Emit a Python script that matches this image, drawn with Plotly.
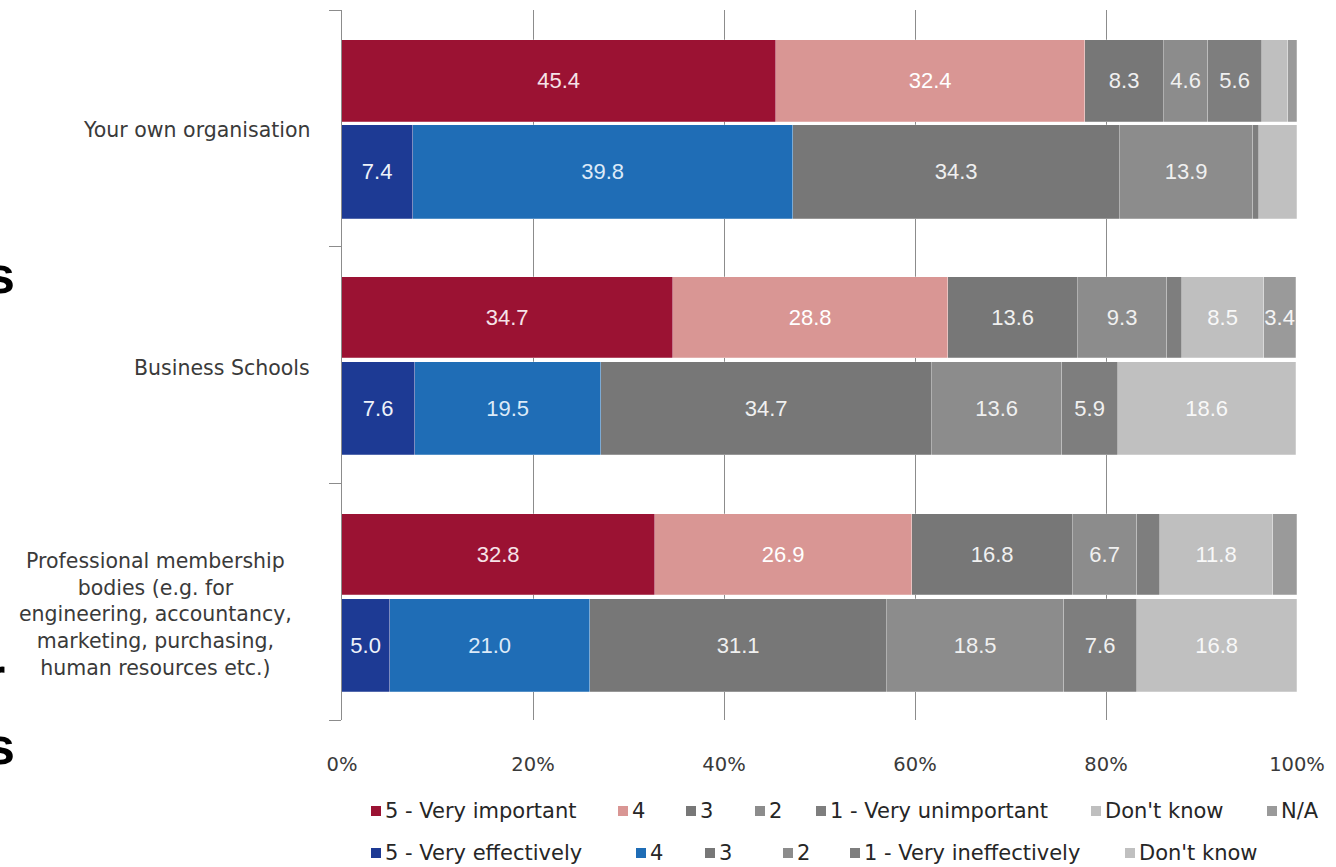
import plotly.graph_objects as go

# ---- data -------------------------------------------------------------
categories = [
    "Your own organisation",
    "Business Schools",
    "Professional membership<br>bodies (e.g. for<br>engineering, accountancy,<br>marketing, purchasing,<br>human resources etc.)",
]

# importance ratings (% of respondents)
importance_names = ["5 - Very important", "4", "3", "2", "1 - Very unimportant", "Don't know", "N/A"]
imp_5 = [45.4, 34.7, 32.8]
imp_4 = [32.4, 28.8, 26.9]
imp_3 = [8.3, 13.6, 16.8]
imp_2 = [4.6, 9.3, 6.7]
imp_1 = [5.6, 1.6, 2.5]
imp_dk = [2.8, 8.5, 11.8]
imp_na = [0.9, 3.4, 2.5]

# effectiveness ratings (% of respondents)
effectiveness_names = ["5 - Very effectively", "4", "3", "2", "1 - Very ineffectively", "Don't know"]
eff_5 = [7.4, 7.6, 5.0]
eff_4 = [39.8, 19.5, 21.0]
eff_3 = [34.3, 34.7, 31.1]
eff_2 = [13.9, 13.6, 18.5]
eff_1 = [0.6, 5.9, 7.6]
eff_dk = [4.0, 18.6, 16.8]

# which segments carry a value label
imp_label_on = [
    [True, True, True], [True, True, True], [True, True, True], [True, True, True],
    [True, False, False], [False, True, True], [False, True, False],
]
eff_label_on = [
    [True, True, True], [True, True, True], [True, True, True], [True, True, True],
    [False, True, True], [False, True, True],
]

# ---- styling ----------------------------------------------------------
imp_colors = ["#9B1233", "#D99694", "#777777", "#8C8C8C", "#7E7E7E", "#BFBFBF", "#9A9A9A"]
imp_text_colors = ["#F6E3E8", "#FFFFFF", "#F0F0F0", "#F0F0F0", "#F0F0F0", "#F8F8F8", "#F4F4F4"]
eff_colors = ["#1D3A94", "#1F6DB6", "#777777", "#8C8C8C", "#7E7E7E", "#C0C0C0"]
eff_text_colors = ["#EEF2FA", "#DCEAF8", "#F0F0F0", "#F0F0F0", "#F0F0F0", "#F8F8F8"]

W, H = 1336, 867
ML, MR, MT, MB = 342, 39, 10, 147
PW, PH = W - ML - MR, H - MT - MB


def fx(px):
    return (px - ML) / PW


def fy(py):
    return (H - MB - py) / PH


imp_pos = [i + 0.300 for i in range(len(categories))]
eff_pos = [i + 0.685 for i in range(len(categories))]

fig = go.Figure()


def add_series(values, positions, width, color, txt_color, label_on, name):
    fig.add_trace(go.Bar(
        x=values,
        y=positions,
        width=width,
        orientation="h",
        name=name,
        marker=dict(color=color, line=dict(width=0.8, color="rgba(255,255,255,0.30)")),
        text=[f"{v:.1f}" if on else "" for v, on in zip(values, label_on)],
        textposition="inside",
        insidetextanchor="middle",
        textangle=0,
        constraintext="none",
        cliponaxis=False,
        textfont=dict(family="Liberation Sans, Arial, sans-serif", size=22, color=txt_color),
        hoverinfo="skip",
        showlegend=False,
    ))


imp_series = [imp_5, imp_4, imp_3, imp_2, imp_1, imp_dk, imp_na]
eff_series = [eff_5, eff_4, eff_3, eff_2, eff_1, eff_dk]

for vals, col, tcol, on, nm in zip(imp_series, imp_colors, imp_text_colors, imp_label_on, importance_names):
    add_series(vals, imp_pos, 0.345, col, tcol, on, nm)
for vals, col, tcol, on, nm in zip(eff_series, eff_colors, eff_text_colors, eff_label_on, effectiveness_names):
    add_series(vals, eff_pos, 0.394, col, tcol, on, nm)

axis_grey = "#8C8C8C"
text_grey = "#3A3A3A"
label_font = dict(family="DejaVu Sans, sans-serif", size=20.5, color=text_grey)

annotations = []
shapes = []

# category labels
cat_shift = [-2, -3, -13]
for i, cat in enumerate(categories):
    if i < 2:
        annotations.append(dict(xref="paper", yref="y", x=0, y=i + 0.5, xshift=-30,
                                yshift=cat_shift[i], xanchor="right", yanchor="middle",
                                text=cat, showarrow=False, align="right", font=label_font))
    else:
        annotations.append(dict(xref="paper", yref="y", x=fx(155), y=i + 0.5,
                                yshift=cat_shift[i], xanchor="center", yanchor="middle",
                                text=cat, showarrow=False, align="center", font=label_font))

# two-row legend: squares + labels
legend_font = dict(family="DejaVu Sans, sans-serif", size=21, color="#262626")
row1_text_x = [383, 630, 698, 767, 828, 1103, 1279]
row2_text_x = [383, 648, 717, 795, 862, 1137]
for names, colors, xs, row_y in [
    (importance_names, imp_colors, row1_text_x, 811),
    (effectiveness_names, eff_colors, row2_text_x, 853),
]:
    for nm, col, tx in zip(names, colors, xs):
        shapes.append(dict(type="rect", xref="paper", yref="paper",
                           x0=fx(tx - 12), x1=fx(tx - 2), y0=fy(row_y + 5), y1=fy(row_y - 5),
                           fillcolor=col, line=dict(width=0)))
        annotations.append(dict(xref="paper", yref="paper", x=fx(tx), y=fy(row_y),
                                xanchor="left", yanchor="middle", text=nm, showarrow=False,
                                font=legend_font))

# clipped lettering along the left edge of the page
for ch, px, py in [("s", 0, 275), ("r", -5, 676), ("s", 0, 746)]:
    annotations.append(dict(xref="paper", yref="paper", x=fx(px), y=fy(py),
                            xanchor="center", yanchor="middle", text=f"<b>{ch}</b>",
                            showarrow=False,
                            font=dict(family="Liberation Sans, Arial, sans-serif", size=52, color="#000000")))

fig.update_layout(
    width=W,
    height=H,
    barmode="stack",
    bargap=0,
    plot_bgcolor="white",
    paper_bgcolor="white",
    margin=dict(l=ML, r=MR, t=MT, b=MB, pad=0),
    showlegend=False,
    annotations=annotations,
    shapes=shapes,
    xaxis=dict(
        range=[0, 100],
        tickvals=[0, 20, 40, 60, 80, 100],
        ticktext=["0%", "20%", "40%", "60%", "80%", "100%"],
        showgrid=True,
        gridcolor=axis_grey,
        gridwidth=1,
        zeroline=False,
        showline=False,
        ticks="",
        ticklabelstandoff=30,
        tickfont=dict(family="DejaVu Sans, sans-serif", size=19.5, color=text_grey),
        fixedrange=True,
    ),
    yaxis=dict(
        range=[3, 0],
        tickvals=[0, 1, 2, 3],
        showticklabels=False,
        ticks="outside",
        ticklen=12,
        tickcolor=axis_grey,
        tickwidth=1,
        showline=True,
        linecolor=axis_grey,
        linewidth=1,
        showgrid=False,
        zeroline=False,
        fixedrange=True,
    ),
)

fig.write_html("out.html")
